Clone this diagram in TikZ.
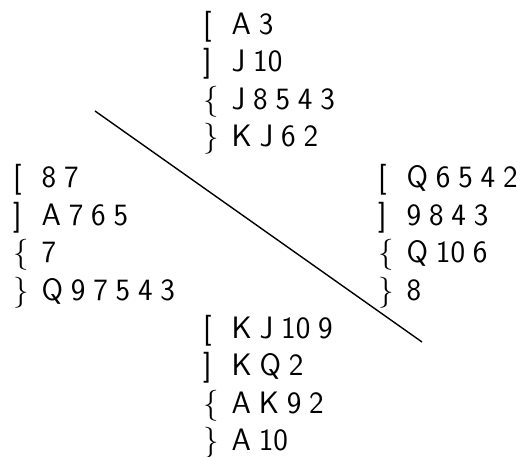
\documentclass[tikz,border=0pt]{standalone}
\newcommand{\cardfont}{\fontsize{31}{37}\selectfont\sffamily\setlength{\spaceskip}{7.8pt}}
\newcommand{\st}[1]{\makebox[28.5pt][l]{#1}}
\begin{document}
\begin{tikzpicture}[x=1pt,y=-1pt,
  card/.style={anchor=base west,inner sep=0pt,font=\cardfont}]
\useasboundingbox (0,0) rectangle (532,457);
% North
\node[card] (n1) at (203,34.5) {\st{[}A 3};
\node[card] (n2) at (203,72) {\st{]}J 10};
\node[card] (n3) at (203,109.5) {\st{\{}J 8 5 4 3};
\node[card] (n4) at (203,147) {\st{\}}K J 6 2};
% West
\node[card] (w1) at (13,187.5) {\st{[}8 7};
\node[card] (w2) at (13,225) {\st{]}A 7 6 5};
\node[card] (w3) at (13,262.5) {\st{\{}7};
\node[card] (w4) at (13,300) {\st{\}}Q 9 7 5 4 3};
% East
\node[card] (e1) at (378,187.5) {\st{[}Q 6 5 4 2};
\node[card] (e2) at (378,225) {\st{]}9 8 4 3};
\node[card] (e3) at (378,262.5) {\st{\{}Q 10 6};
\node[card] (e4) at (378,300) {\st{\}}8};
% South
\node[card] (s1) at (203,338) {\st{[}K J 10 9};
\node[card] (s2) at (203,375.5) {\st{]}K Q 2};
\node[card] (s3) at (203,413) {\st{\{}A K 9 2};
\node[card] (s4) at (203,450.5) {\st{\}}A 10};
% diagonal
\coordinate (la) at (95,111);
\coordinate (lb) at (422,342);
\draw[line width=1.4pt] (la) -- (lb);
\end{tikzpicture}
\end{document}
